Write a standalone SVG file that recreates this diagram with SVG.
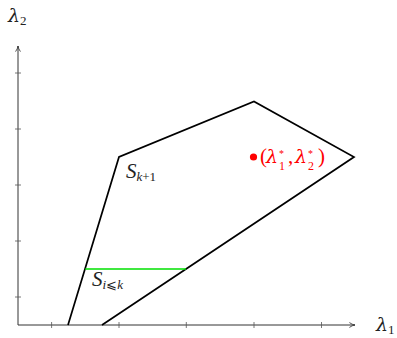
<svg xmlns="http://www.w3.org/2000/svg" width="397" height="338" viewBox="0 0 397 338">
<defs>
<marker id="arr" viewBox="0 0 10 10" refX="9" refY="5" markerWidth="7" markerHeight="7" orient="auto" markerUnits="userSpaceOnUse">
<path d="M1,1.5 Q5,4.5 9,5 Q5,5.5 1,8.5" fill="none" stroke="#333" stroke-width="1.2"/>
</marker>
<style>
.ax{stroke:#333;stroke-width:1;fill:none}
.tk{stroke:#555;stroke-width:0.8}
.poly{stroke:#000;stroke-width:1.7;fill:none;stroke-linejoin:miter}
.lbl{font-family:"Liberation Serif","DejaVu Serif",serif;font-style:italic;fill:#222;font-size:21px}
.lam{font-family:"DejaVu Serif",serif;font-style:italic;font-size:19px}
.sub{font-size:13px}
.up{font-style:normal}
.red{fill:#ff0000}
.st{font-size:10px}
.rs{font-size:12px}
</style>
</defs>
<rect width="397" height="338" fill="#fff"/>
<g id="axes">
<line class="ax" x1="18" y1="325" x2="355" y2="325" marker-end="url(#arr)"/>
<line class="ax" x1="18" y1="325" x2="18" y2="46" marker-end="url(#arr)"/>
<g class="tk">
<line x1="51.6" y1="322" x2="51.6" y2="328"/>
<line x1="119" y1="322" x2="119" y2="328"/>
<line x1="186.3" y1="322" x2="186.3" y2="328"/>
<line x1="254" y1="322" x2="254" y2="328"/>
<line x1="321.5" y1="322" x2="321.5" y2="328"/>
<line x1="15" y1="297" x2="21" y2="297"/>
<line x1="15" y1="241" x2="21" y2="241"/>
<line x1="15" y1="185" x2="21" y2="185"/>
<line x1="15" y1="129" x2="21" y2="129"/>
<line x1="15" y1="73" x2="21" y2="73"/>
</g>
<text class="lbl" x="376" y="331"><tspan class="lam">λ</tspan><tspan class="sub up" dy="3">1</tspan></text>
<text class="lbl" x="8" y="22"><tspan class="lam">λ</tspan><tspan class="sub up" dy="3">2</tspan></text>
</g>
<g id="connectors">
<polyline id="region" class="poly" points="68,325 119,157 254,101.5 354,157 102,325"/>
<line id="green-cut" x1="85.2" y1="269" x2="186" y2="269" stroke="#00e000" stroke-width="1.7"/>
</g>
<g id="label-sk1">
<text class="lbl" x="126" y="178">S<tspan class="sub" dy="3">k</tspan><tspan class="sub up">+1</tspan></text>
</g>
<g id="label-sik">
<text class="lbl" x="92" y="286">S<tspan class="sub" dy="3">i</tspan><tspan class="sub up">⩽</tspan><tspan class="sub">k</tspan></text>
</g>
<g id="optimum">
<circle cx="253.5" cy="157" r="3.6" class="red"/>
<text class="lbl red up" x="260" y="163">(</text>
<text class="lbl lam red" x="266" y="163">λ</text>
<text class="lbl red up st" x="279" y="156.5">*</text>
<text class="lbl red up rs" x="279" y="170">1</text>
<text class="lbl red up" x="288" y="163">,</text>
<text class="lbl lam red" x="295" y="163">λ</text>
<text class="lbl red up st" x="308" y="156.5">*</text>
<text class="lbl red up rs" x="308" y="170">2</text>
<text class="lbl red up" x="318" y="163">)</text>
</g>
</svg>
